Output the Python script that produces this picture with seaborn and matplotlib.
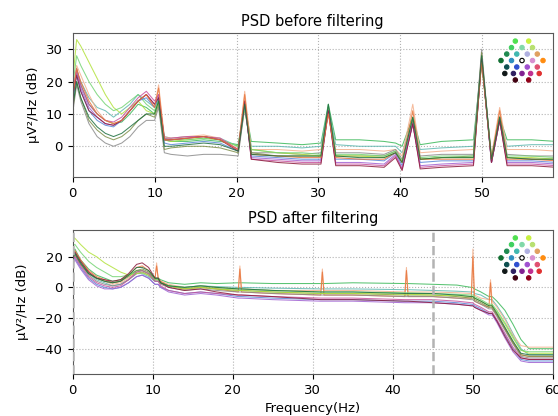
import numpy as np
import pandas as pd
import matplotlib
matplotlib.use("Agg")
import matplotlib.pyplot as plt
import seaborn as sns

# ---------------- data ----------------
FREQ_TOP = [0, 0.5, 1, 2, 3, 4, 5, 6, 7, 8, 9, 10, 10.5, 11.2, 12, 14, 16, 18, 20.2, 21, 21.8,
            25, 28, 30.3, 31.2, 32.1, 35, 38, 39.4, 40.2, 41.5, 42.4, 45, 48.9, 49.9, 51.1,
            52.1, 53, 56, 59]

PSD_BEFORE = {
    "green":      [15, 24, 19, 13, 10, 8, 7, 7.5, 10, 13, 12, 10, 14, 2, 1.5, 1.5, 2, 1.5, 0.5, 13, 1.5,
                   1, 0.5, 1, 13, 2, 2, 1.5, 1, 0, 9, 0.5, 1.5, 2, 26, -3, 9, 2, 2, 1.5],
    "teal":       [12, 23, 20, 15, 12, 11, 9, 11, 13, 16, 14, 12, 15, 3, 2.5, 3, 3, 2.5, 0, 13, 0,
                   0, -0.5, 0, 12, 0.5, 0, 0, 0, -2, 8, -1, -0.5, 0, 28, -4, 9, 0, 0.5, 0.5],
    "peach":      [16, 25, 22, 16, 11, 8, 7, 8, 11, 14, 16, 12, 19, 3, 2.5, 3, 3.5, 2.5, -1, 17, -1,
                   -1, -1.5, -1, 11, -1, -1, -1.5, -1, -3, 13, -2, -1.5, -1, 27, -3, 12, -1, -1, -1.5],
    "gray":       [10, 19, 14, 7, 3, 1, 0, 1, 3, 6, 8, 8, 12, -2, -2.5, -3, -2.5, -2.5, -3, 12, -2,
                   -2, -2.5, -2, 12, -2, -2, -2.5, -1, -4, 8, -3, -2.5, -2.5, 30, -5, 9, -2.5, -3, -3],
    "olive":      [11, 20, 15, 8, 5, 3, 2, 3, 5, 8, 10, 9, 13, -1, -0.5, 0, 0, -0.5, -2, 12, -2,
                   -3, -3, -3, 12, -3, -3, -3, -1.5, -5, 8, -4, -3.5, -3, 29, -5, 9, -3.5, -4, -4],
    "lime":       [20, 33, 31, 26, 21, 16, 12, 10, 12, 14, 11, 10, 14, 2, 1.5, 2, 2.5, 2, 0, 12, -1,
                   -2, -2.5, -3, 11, -3, -3, -3.5, -2, -5, 7, -4, -3.5, -3.5, 26, -4, 8, -3.5, -3.5, -4],
    "lightgreen": [18, 28, 25, 20, 16, 13, 11, 12, 14, 16, 13, 11, 15, 2.5, 2, 2, 2.5, 2, 0, 12, -1,
                   -2, -2, -2.5, 12, -2.5, -2.5, -3, -1.5, -4.5, 7, -3.5, -3, -3, 27, -4, 8, -3, -3, -3.5],
    "blue":       [14, 22, 17, 11, 8, 6.5, 6, 8, 11, 14, 15, 12, 15, 1, 0.5, 1, 1.5, 1, -1.5, 13, -3,
                   -3.5, -4, -4, 11, -4, -4, -4.5, -2, -6, 7, -5, -4.5, -4.5, 27, -5, 8, -4.5, -4.5, -5],
    "purple":     [15, 23, 18, 12, 9, 7, 6.5, 8, 11, 14, 16, 13, 16, 2, 2, 2.5, 3, 2, -1, 14, -3.5,
                   -4, -4.5, -4.5, 11, -5, -5, -5.5, -2.5, -7, 7, -6, -5.5, -5, 27, -5, 8, -5, -5, -5.5],
    "magenta":    [16, 24, 19, 13, 10, 8, 7.5, 9, 12, 15, 17, 14, 16, 2.5, 2.5, 3, 3, 2.5, -1, 14, -4,
                   -4.5, -5, -5, 11, -5.5, -5.5, -6, -3, -7, 7, -6.5, -6, -5.5, 27, -5, 8, -5.5, -5.5, -6],
    "darkred":    [15, 22, 17, 11, 9, 7, 6.5, 8, 11, 14, 16, 13, 15, 2, 2, 2.5, 3, 2, -1.5, 14, -4,
                   -5, -5.5, -5.5, 11, -6, -6, -6.5, -3.5, -7.5, 7, -7, -6.5, -6, 27, -5, 8, -6, -6, -6.5],
    "orange":     [15, 24, 20, 14, 10, 8, 7, 8, 11, 14, 16, 12, 18, 2, 2, 2.5, 3, 2, -1, 16, -2.5,
                   -3, -3.5, -3.5, 10, -3.5, -4, -4, -2, -5, 11, -4, -4, -4, 26, -4, 11, -4, -4, -4.5],
    "darkgreen":  [12, 20, 15, 9, 6, 4, 3, 4, 6, 8, 10, 10, 14, 0, 0, 0.5, 1, 0.5, -1.5, 13, -2.5,
                   -3, -3, -3, 13, -3, -3.5, -3.5, -2, -5, 9, -4, -3.5, -3.5, 28, -4, 9, -3.5, -4, -4],
}

FREQ_BOT = [0, 0.3, 1, 2, 3, 4, 5, 6, 7, 8, 8.7, 9.5, 10.3, 10.5, 10.7, 11, 12, 14, 16, 18,
            20.7, 20.9, 21.1, 25, 31.0, 31.2, 31.4, 35, 41.5, 41.7, 41.9, 45, 48, 49.8, 50.0,
            50.2, 51, 52.0, 52.2, 52.4, 53, 54, 55, 56, 57, 60]

PSD_AFTER = {
    "green":      [22, 25, 18, 12, 8, 6, 4, 5, 8, 11, 11, 9, 6, 6, 6, 5, 3, 2, 3, 2.5,
                   3, 3, 3, 2.5, 2.5, 2.5, 2.5, 3, 2.5, 2.5, 2.5, 2, 1.5, 0, 0,
                   -1, -3, -6, -6, -6, -9, -15, -24, -34, -40, -40],
    "teal":       [20, 23, 16, 9, 5, 3, 1, 2, 5, 9, 9, 7, 4, 4, 4, 3, 1, 0, 1, 0.5,
                   0, 0, 0, -0.5, -1, -1, -1, -1, -1.5, -1.5, -1.5, -2, -2.5, -3, -3,
                   -4, -5, -8, -8, -8, -12, -20, -30, -40, -44, -44],
    "peach":      [18, 22, 17, 10, 6, 4, 2, 3, 6, 10, 10, 8, 5, 16, 5, 4, 2, 0, 1, 0,
                   -1, 14, -1, -2, -2, 12, -2, -2, -3, 13, -3, -3, -3.5, -4, 25,
                   -5, -7, -8, 5, -9, -13, -21, -31, -38, -39, -39],
    "orange":     [20, 24, 18, 11, 7, 5, 3, 4, 8, 13, 14, 11, 6, 14, 6, 4, 1, -1, 0, -1,
                   -3, 12, -3, -4, -5, 10, -5, -5, -6, 11, -6, -6, -7, -7, 20,
                   -9, -11, -13, 3, -14, -18, -27, -36, -44, -45, -45],
    "gray":       [19, 22, 15, 8, 4, 2, 1, 2, 5, 9, 10, 8, 4, 4, 4, 2, 0, -2, -1, -2,
                   -3, -3, -3, -4, -5, -5, -5, -5, -6, -6, -6, -6, -7, -8, -8,
                   -9, -11, -14, -14, -14, -19, -28, -37, -45, -46, -46],
    "olive":      [18, 21, 15, 9, 6, 4, 3, 4, 7, 11, 12, 10, 5, 5, 5, 3, 1, -1, 0, -1,
                   -2, -2, -2, -3, -4, -4, -4, -4, -5, -5, -5, -5, -6, -7, -7,
                   -8, -10, -13, -13, -13, -18, -27, -36, -44, -45, -45],
    "lime":       [33, 32, 28, 23, 20, 16, 13, 10, 8, 9, 9.5, 8, 5, 5, 5, 3, 1, -1, 0, -1,
                   -2, -2, -2, -3, -4, -4, -4, -4, -4.5, -4.5, -4.5, -5, -5.5, -6, -6,
                   -7, -9, -12, -12, -12, -16, -24, -33, -41, -43, -43],
    "lightgreen": [27, 28, 23, 17, 13, 10, 7, 7, 8, 10, 11, 9, 5, 5, 5, 3, 1, 0, 1, 0,
                   -1, -1, -1, -2, -3, -3, -3, -3, -3.5, -3.5, -3.5, -4, -4.5, -5, -5,
                   -6, -8, -11, -11, -11, -15, -23, -32, -41, -42, -42],
    "blue":       [16, 19, 13, 6, 2, 0, -1, 0, 3, 7, 8, 6, 2, 2, 2, 0, -2, -4, -3, -4,
                   -6, -6, -6, -7, -8, -8, -8, -8, -9, -9, -9, -9, -10, -11, -11,
                   -12, -14, -17, -17, -17, -22, -31, -40, -47, -48, -48],
    "purple":     [15, 18, 12, 5, 1, -1, -1, 0, 3, 7, 8, 6, 2, 2, 2, 0, -3, -5, -4, -5,
                   -7, -7, -7, -8, -9, -9, -9, -9, -10, -10, -10, -10, -11, -12, -12,
                   -13, -15, -18, -18, -18, -23, -33, -42, -48, -49, -49],
    "magenta":    [17, 20, 14, 7, 3, 1, 0, 1, 5, 10, 11, 9, 4, 4, 4, 1, -2, -4, -3, -4,
                   -5, -5, -5, -6, -7, -7, -7, -7, -8, -8, -8, -8, -9, -10, -10,
                   -11, -13, -16, -16, -16, -21, -30, -39, -46, -47, -47],
    "darkred":    [20, 23, 17, 10, 6, 5, 4, 5, 9, 15, 16, 13, 6, 6, 6, 3, 0, -2, -1, -3,
                   -5, -5, -5, -6, -8, -8, -8, -8, -9, -9, -9, -10, -11, -12, -12,
                   -13, -15, -17, -17, -17, -22, -32, -41, -46, -47, -47],
    "darkgreen":  [19, 22, 16, 9, 6, 4, 3, 4, 8, 13, 13, 11, 6, 6, 6, 3, 1, 0, 1, 0,
                   -1, -1, -1, -2, -3, -3, -3, -3, -4, -4, -4, -4, -5, -6, -6,
                   -7, -9, -12, -12, -12, -17, -26, -35, -43, -44, -44],
}

CHANNEL_COLORS = {
    "green": "#3cb95a", "teal": "#5fb8b0", "peach": "#f4b08c", "gray": "#8c8c8c",
    "olive": "#7f8f4a", "lime": "#b2e23c", "lightgreen": "#74d474", "blue": "#5b87d6",
    "purple": "#a062d2", "magenta": "#c8509c", "darkred": "#8c1c3c", "orange": "#e8743a",
    "darkgreen": "#1f7040",
}

# sensor layout for inset (x, y, colour)
SENSOR_X = [-0.7, 0.7, -1.1, 0.0, 1.1, -1.6, -0.55, 0.55, 1.6, -2.2, -1.1, 0.0, 1.1, 2.2,
            -1.6, -0.55, 0.55, 1.6, -1.8, -0.9, 0.0, 0.9, 1.8, -0.7, 0.7]
SENSOR_Y = [4.0, 4.0, 3.2, 3.2, 3.2, 2.4, 2.4, 2.4, 2.4, 1.6, 1.6, 1.6, 1.6, 1.6,
            0.8, 0.8, 0.8, 0.8, 0.0, 0.0, 0.0, 0.0, 0.0, -0.8, -0.8]
SENSOR_C = ["#50e050", "#c8f040", "#40d060", "#80d8a8", "#b8e070", "#1e8a50", "#40b8b0",
            "#b0b0e0", "#e0a060", "#0f6e30", "#2e8fc0", "#ffffff", "#d890d0", "#ff8c10",
            "#0e5050", "#3050d0", "#a050d0", "#e05070", "#101818", "#302060", "#802090",
            "#c03090", "#e03030", "#400010", "#900018"]

XTICKS = [0, 10, 20, 30, 40, 50, 60]
TITLES = ["PSD before filtering", "PSD after filtering"]
FILTER_BAND = [0.1, 45]


def long_df(freqs, table):
    rows = []
    for ch, vals in table.items():
        for f, v in zip(freqs, vals):
            rows.append((ch, f, v))
    return pd.DataFrame(rows, columns=["channel", "freq", "psd"])


df_top = long_df(FREQ_TOP, PSD_BEFORE)
df_bot = long_df(FREQ_BOT, PSD_AFTER)

plt.rcParams["font.family"] = ["DejaVu Sans"]
fig = plt.figure(figsize=(5.58, 4.16), dpi=100)
ax1 = fig.add_axes([0.13, 0.5745, 0.861, 0.346])
ax2 = fig.add_axes([0.13, 0.101, 0.861, 0.346])

for ax, df, title in [(ax1, df_top, TITLES[0]), (ax2, df_bot, TITLES[1])]:
    sns.lineplot(data=df, x="freq", y="psd", hue="channel", palette=CHANNEL_COLORS,
                 estimator=None, legend=False, linewidth=0.75, alpha=0.85, ax=ax, sort=False)
    ax.grid(True, linestyle=":", color="0.7", linewidth=0.8)
    ax.set_title(title, fontsize=10.5, pad=5)
    ax.set_ylabel("µV²/Hz (dB)", fontsize=9.5)
    ax.set_xticks(XTICKS)
    ax.tick_params(labelsize=9.5)
    for s in ax.spines.values():
        s.set_color("0.35")

ax1.set_xlim(0, 58.6)
ax1.set_ylim(-9.5, 35)
ax1.set_yticks([0, 10, 20, 30])
ax1.set_xlabel("")

ax2.set_xlim(0, 60)
ax2.set_ylim(-56.5, 37.4)
ax2.set_yticks([-40, -20, 0, 20])
ax2.set_xlabel("Frequency(Hz)", fontsize=9.5)
for f in FILTER_BAND:
    ax2.axvline(f, color="0.7", linestyle="--", linewidth=1.8, zorder=5)

# sensor inset
for rect in ([0.891, 0.800, 0.089, 0.109], [0.891, 0.324, 0.089, 0.112]):
    ia = fig.add_axes(rect)
    ia.scatter(SENSOR_X, SENSOR_Y, c=SENSOR_C, s=10,
               edgecolors=["#000000" if c == "#ffffff" else c for c in SENSOR_C],
               linewidths=0.8)
    ia.set_xlim(-2.6, 2.6)
    ia.set_ylim(-1.2, 4.4)
    ia.axis("off")

fig.savefig("out.png", dpi=100)
